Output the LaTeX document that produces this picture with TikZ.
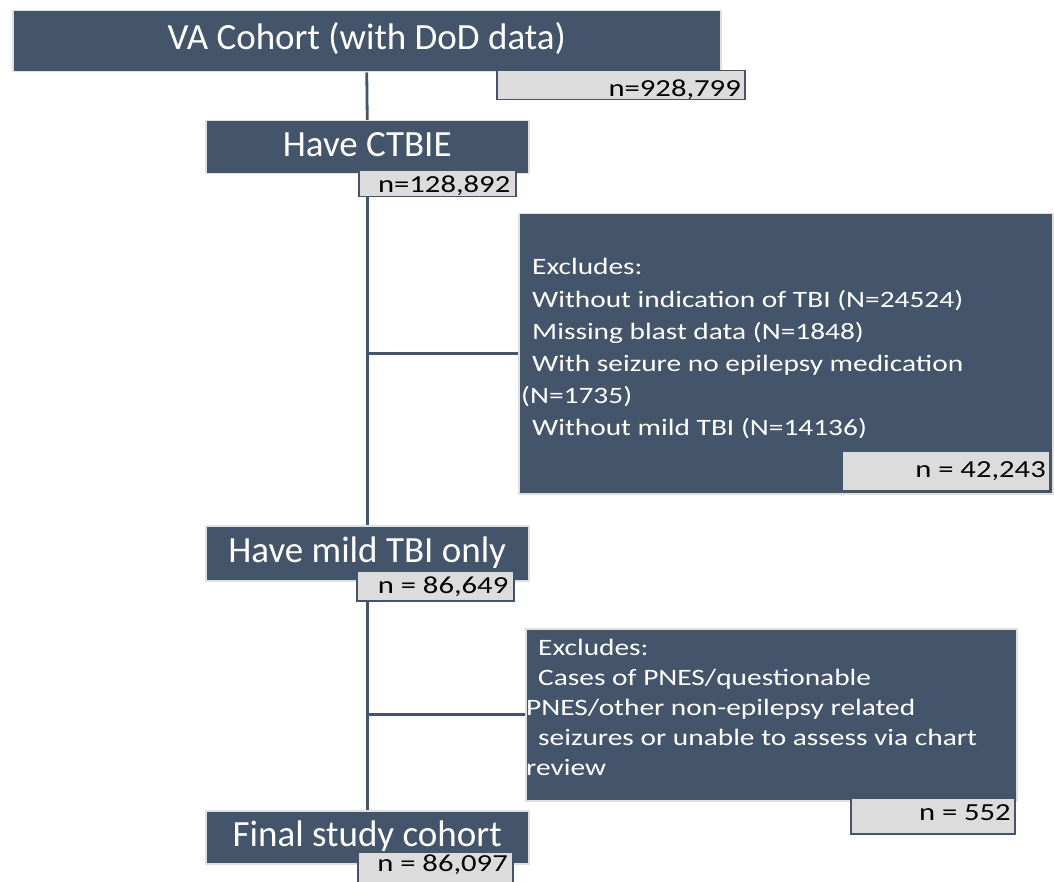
\documentclass[tikz,border=0pt]{standalone}
\usepackage{fontspec}
\setmainfont{Carlito}
\newfontfamily\wide[FakeStretch=1.25]{Carlito}
\usetikzlibrary{backgrounds}
\definecolor{slate}{HTML}{44546A}
\definecolor{nfill}{HTML}{DCDCDC}
\definecolor{edge}{HTML}{E0E0E0}
\tikzset{
  x=1pt, y=-1pt,
  bigbox/.style={fill=slate, draw=edge, line width=1.5pt, text=white, inner sep=0pt, anchor=north west,
     text height=0pt, text depth=0pt, font=\fontsize{37}{40}\selectfont},
  exbox/.style={fill=slate, draw=edge, line width=1.5pt, inner sep=0pt, anchor=north west},
  extext/.style={text=white, inner sep=0pt, anchor=base west, font=\wide\fontsize{23.5}{32}\selectfont},
  nbox/.style={fill=nfill, draw=slate, line width=1.5pt, text=black, inner sep=0pt, anchor=north west,
     text height=0pt, text depth=0pt, font=\wide\fontsize{24.5}{28}\selectfont},
  link/.style={draw=slate, line width=2.8pt},
}
\begin{document}
\begin{tikzpicture}
\useasboundingbox (0,0) rectangle (1054,882);
% main boxes
\node[bigbox, minimum width=708pt, minimum height=61pt] (va) at (12,10) {\raisebox{-8pt}{VA Cohort (with DoD data)}};
\node[nbox, minimum width=248pt, minimum height=29pt] (nva) at (496,70) {\raisebox{-11pt}{\makebox[240pt][r]{n=928,799}}};
\node[bigbox, minimum width=323pt, minimum height=53pt] (ctbie) at (205,120) {\raisebox{-9.5pt}{Have CTBIE}};
\node[nbox, minimum width=157pt, minimum height=26pt] (nctbie) at (358,170) {\raisebox{-8.5pt}{\makebox[146pt][r]{n=128,892}}};
% exclusion 1
\node[exbox, minimum width=534pt, minimum height=280pt] (ex1) at (518,213) {};
\node[extext] (ex1t) at (521,275) {\vtop{\baselineskip=32.2pt
  \hbox{\hspace{11pt}Excludes:}
  \hbox{\hspace{11pt}Without indication of TBI (N=24524)}
  \hbox{\hspace{11pt}Missing blast data (N=1848)}
  \hbox{\hspace{11pt}With seizure no epilepsy medication}
  \hbox{(N=1735)}
  \hbox{\hspace{11pt}Without mild TBI (N=14136)}}};
\node[nbox, minimum width=208pt, minimum height=40pt] (nex1) at (841,450) {\raisebox{-7pt}{\makebox[200pt][r]{n = 42,243}}};
% mild TBI
\node[bigbox, minimum width=323pt, minimum height=55pt] (mild) at (205,525) {\raisebox{-9.5pt}{Have mild TBI only}};
\node[nbox, minimum width=157pt, minimum height=30pt] (nmild) at (356,570) {\raisebox{-8pt}{\makebox[146pt][r]{n = 86,649}}};
% exclusion 2
\node[exbox, minimum width=491pt, minimum height=172pt] (ex2) at (525,628) {};
\node[extext] (ex2t) at (526,655) {\vtop{\baselineskip=30pt
  \hbox{\hspace{12pt}Excludes:}
  \hbox{\hspace{12pt}Cases of PNES/questionable}
  \hbox{PNES/other non-epilepsy related}
  \hbox{\hspace{12pt}seizures or unable to assess via chart}
  \hbox{review}}};
\node[nbox, minimum width=164pt, minimum height=36pt] (nex2) at (850,797) {\raisebox{-5pt}{\makebox[156pt][r]{n = 552}}};
% final
\node[bigbox, minimum width=323pt, minimum height=53pt] (final) at (205,810) {\raisebox{-9.5pt}{Final study cohort}};
\node[nbox, minimum width=155pt, minimum height=34pt] (nfinal) at (357,851) {\raisebox{-3pt}{\makebox[145pt][r]{n = 86,097}}};
% connectors
\begin{scope}[on background layer]
\draw[link] (va.south) -- (ctbie.north);
\draw[link] (ctbie.south) -- (mild.north);
\draw[link] (ex1.west -| ctbie.south) -- (ex1.west);
\draw[link] (mild.south) -- (final.north);
\draw[link] (ex2.west -| mild.south) -- (ex2.west);
\end{scope}
\end{tikzpicture}
\end{document}
